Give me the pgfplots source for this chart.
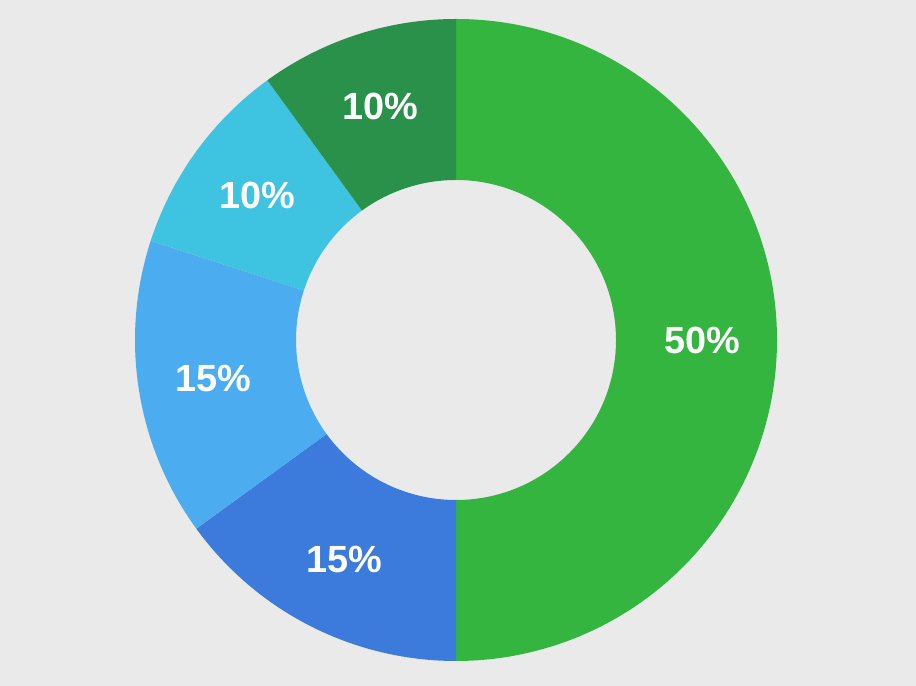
\documentclass[border=0pt]{standalone}
\usepackage{fontspec}
\setmainfont{Liberation Sans}
\usepackage{pgfplots}
\usepackage{pgfplotstable}
\pgfplotsset{compat=1.18}
\definecolor{bg}{HTML}{EAEAEA}
\definecolor{cA}{HTML}{34B53F}
\definecolor{cB}{HTML}{3C7ADB}
\definecolor{cC}{HTML}{4BADF0}
\definecolor{cD}{HTML}{3EC4E0}
\definecolor{cE}{HTML}{29914A}
\pgfplotstableread{
value col
50 cA
15 cB
15 cC
10 cD
10 cE
}\piedata
\newcommand\lblfont{\fontsize{38}{42}\selectfont\bfseries}
\begin{document}
\begin{tikzpicture}
\begin{axis}[
  hide axis, scale only axis,
  x=1bp, y=1bp,
  xmin=0, xmax=916, ymin=0, ymax=686,
  clip=false,
]
\fill[bg] (axis cs:0,0) rectangle (axis cs:916,686);
\pgfplotstablegetrowsof{\piedata}
\pgfmathtruncatemacro\N{\pgfplotsretval-1}
\def\cum{0}
\pgfplotsforeachungrouped \i in {0,...,\N}{%
  \pgfplotstablegetelem{\i}{value}\of\piedata \let\v\pgfplotsretval
  \pgfplotstablegetelem{\i}{col}\of\piedata \let\c\pgfplotsretval
  \pgfmathsetmacro\a{90-3.6*\cum}%
  \pgfmathsetmacro\b{90-3.6*(\cum+\v)}%
  \pgfmathsetmacro\m{(\a+\b)/2}%
  \edef\temp{%
    \noexpand\fill[\c] (axis cs:{456+321*cos(\a)},{346+321*sin(\a)}) arc[start angle=\a, end angle=\b, radius=321bp]
      -- (axis cs:{456+160*cos(\b)},{346+160*sin(\b)}) arc[start angle=\b, end angle=\a, radius=160bp] -- cycle;
    \noexpand\node[text=white, font=\noexpand\lblfont] at (axis cs:{456+246*cos(\m)},{346+246*sin(\m)}) {\v\noexpand\%};
  }%
  \temp
  \pgfmathsetmacro\cum{\cum+\v}%
}
\end{axis}
\end{tikzpicture}
\end{document}
